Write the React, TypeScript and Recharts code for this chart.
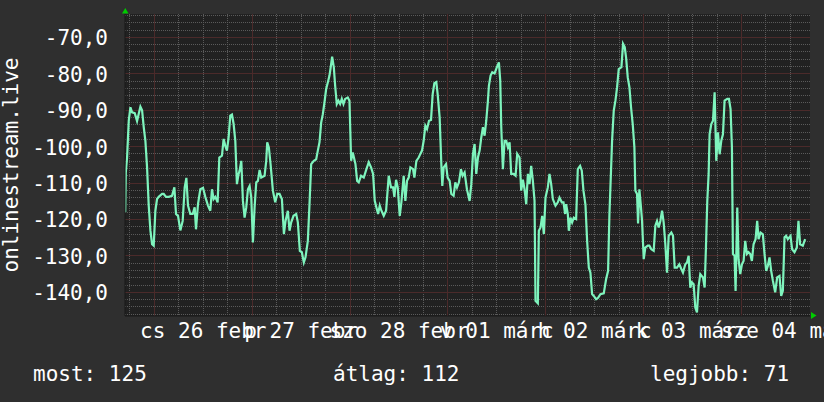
import { LineChart, Line, XAxis, YAxis, CartesianGrid, ReferenceLine } from 'recharts';

// hours relative to 26 Feb 00:00
const feb25Evening: [number, number][] = [
  [-7.15, -118], [-7.0, -107], [-6.69, -103], [-6.28, -92.9], [-5.87, -89.2], [-5.46, -90.6],
  [-4.81, -90.8], [-4.24, -93], [-3.83, -91], [-3.42, -89], [-3.01, -90], [-2.6, -94.7],
  [-2.2, -98.4], [-1.79, -105.7], [-1.38, -116.2], [-0.97, -123], [-0.56, -126.8], [-0.16, -127.2],
];
const feb26: [number, number][] = [
  [0.25, -117.6], [0.66, -114.4], [1.07, -113.8], [1.89, -113], [2.29, -113], [2.87, -113.8],
  [3.52, -113.8], [4.33, -113.5], [4.91, -111.2], [5.31, -118.5], [5.8, -119], [6.38, -123],
  [6.95, -120.4], [7.44, -111.2], [7.85, -108.6], [8.25, -116.2], [8.82, -118.5], [9.4, -118.5],
  [9.89, -116.7], [10.21, -122.7], [10.7, -115.8], [11.27, -111.7], [11.93, -111.3], [12.5, -113.8],
  [13.15, -116.2], [13.72, -117.6], [14.13, -111.7], [14.54, -114.4], [14.95, -113.8], [15.52, -115.3],
  [15.93, -103], [16.58, -102.5], [16.99, -97.9], [17.4, -99.8], [17.8, -101.1], [18.21, -97.5],
  [18.62, -91.5], [19.03, -91.2], [19.44, -93.8], [19.85, -98.4], [20.25, -110.3], [20.66, -107.5],
  [20.91, -106.6], [21.32, -103.9], [21.72, -114.9], [22.13, -119.5], [22.54, -116.7], [22.95, -111.7],
  [23.36, -110.8], [23.77, -114],
];
const feb27: [number, number][] = [
  [24.17, -126.3], [24.58, -116.7], [24.99, -109.8], [25.4, -109.4], [25.81, -106.4], [26.21, -108.5],
  [27.03, -108], [27.44, -103.9], [27.68, -98.8], [28.09, -100.3], [28.5, -104.8], [29.07, -112.1],
  [29.64, -115.3], [30.13, -113], [30.7, -113], [31.28, -114.4], [31.77, -124], [32.17, -120.4],
  [32.74, -117.6], [33.15, -123.1], [33.56, -120.8], [34.13, -119], [34.79, -118.5], [35.19, -120.8],
  [35.68, -128.6], [36.17, -129], [36.66, -131.8], [37.07, -130.4], [37.64, -125.9], [38.05, -115.8],
  [38.46, -104.8], [39.11, -103.9], [39.68, -103.5], [40.09, -101.1], [40.5, -98.8], [40.91, -93.4],
  [41.32, -91.1], [41.72, -87.9], [42.13, -84.2], [42.54, -82.4], [42.95, -80.5], [43.19, -78.7],
  [43.6, -75.3], [44.01, -78.2], [44.34, -83.3], [44.74, -88.3], [45.15, -87.4], [45.56, -88.3],
  [45.97, -86.9], [46.38, -88.3], [46.79, -86.9], [47.44, -86.5], [47.85, -87.4],
];
const feb28: [number, number][] = [
  [48.26, -103.9], [48.66, -101.6], [49.32, -104.8], [49.73, -109.4], [50.13, -109.8], [50.71, -108],
  [51.36, -108.5], [52.01, -106.2], [52.58, -104.3], [53.15, -105.7], [53.64, -107.5], [54.05, -114.9],
  [54.46, -116.7], [54.87, -118.5], [55.28, -116.2], [55.69, -117.6], [56.26, -119], [56.83, -117.6],
  [57.48, -108], [58.05, -111.2], [58.54, -111.2], [58.87, -113.8], [59.28, -109.1], [59.69, -111.2],
  [60.18, -119], [60.58, -115.3], [61.15, -108], [61.56, -114.9], [61.97, -109.4], [62.38, -108.5],
  [62.79, -105.7], [63.44, -106.2], [63.77, -108.5], [64.26, -103.9], [64.83, -103], [65.24, -102],
  [65.64, -101.1], [66.05, -98.4], [66.46, -94.3], [66.87, -95.2], [67.36, -92.9], [67.85, -92.7],
  [68.26, -85.6], [68.67, -82.6], [69.15, -82.3], [69.48, -85.6], [69.97, -92], [70.38, -104.8],
  [70.62, -110.8], [70.95, -105.7], [71.52, -104.8], [71.93, -108.5],
];
const mar01: [number, number][] = [
  [72.42, -109.4], [72.83, -113], [73.4, -113.5], [73.81, -109.8], [74.22, -111.2], [74.7, -109.8],
  [75.19, -106.2], [75.6, -108], [76.09, -107.1], [76.66, -111.7], [77.32, -114.9], [77.73, -110.3],
  [78.14, -102], [78.54, -99.3], [78.95, -107.5], [79.36, -103], [79.77, -101.1], [80.18, -97.5],
  [80.59, -94.7], [80.99, -97], [81.4, -92.9], [81.81, -87.4], [82.05, -83.3], [82.46, -80.5],
  [82.87, -79.6], [83.44, -79.9], [84.01, -78.2], [84.5, -76.9], [84.83, -81.9], [85.08, -94.7],
  [85.48, -106.2], [85.89, -98.4], [86.3, -98.4], [86.71, -100.2], [87.12, -98.8], [87.52, -107.5],
  [88.1, -107.5], [88.59, -108], [88.99, -102], [89.56, -103], [89.97, -112.1], [90.38, -109.1],
  [90.79, -111.7], [91.2, -115.8], [91.61, -107.5], [92.01, -110.3], [92.42, -105.3], [92.83, -109.4],
  [93.24, -114.9], [93.48, -142.3], [94.05, -143], [94.3, -123.1], [94.71, -122.2], [95.12, -119],
  [95.52, -124], [95.93, -114],
];
const mar02: [number, number][] = [
  [96.5, -111.2], [96.91, -107.5], [97.32, -110.3], [97.73, -114.4], [98.38, -116.2], [98.95, -115.3],
  [99.36, -114], [99.93, -115.3], [100.34, -115.3], [100.75, -118.5], [100.99, -115.8], [101.4, -118.5],
  [101.65, -123.1], [102.05, -119.5], [102.46, -120.8], [102.87, -119.5], [103.44, -119.9], [103.85, -106.2],
  [104.42, -105.3], [104.83, -106.6], [105.24, -112.1], [105.73, -116], [106.14, -125.9], [106.55, -133.2],
  [106.95, -134.6], [107.36, -140.5], [107.77, -141], [108.34, -141.9], [108.83, -141.5], [109.4, -140.5],
  [110.22, -140.3], [110.79, -136.4], [111.28, -134.1], [111.61, -118.5], [111.85, -111.2], [112.26, -98.4],
  [112.67, -90.1], [113.08, -87.4], [113.49, -83.7], [113.89, -78.7], [114.55, -78.2], [114.95, -71.8],
  [115.36, -72.7], [115.69, -75.5], [116.1, -81], [116.51, -83.7], [116.91, -89.2], [117.32, -93.8],
  [117.73, -100.2], [117.97, -112.1], [118.38, -113], [118.63, -121.1], [118.95, -111.7], [119.28, -115.8],
  [119.61, -120.4],
];
const mar03: [number, number][] = [
  [120.02, -130.9], [120.42, -127.7], [121.0, -127.2], [121.4, -127.2], [121.89, -128.2], [122.46, -128.6],
  [122.87, -121.7], [123.28, -120.4], [123.69, -122.2], [124.1, -120.4], [124.51, -117.6], [124.91, -120.8],
  [125.32, -126.8], [125.73, -134.6], [126.14, -124.5], [126.79, -123.6], [127.2, -124.5], [127.61, -133.2],
  [128.18, -133.2], [128.75, -132.3], [129.24, -133.6], [129.65, -134.6], [130.22, -132.3], [130.63, -131.8],
  [131.04, -130], [131.44, -138.7], [131.85, -137.3], [132.26, -137.8], [132.67, -144.2], [133.08, -145.5],
  [133.49, -138.2], [133.89, -135], [134.55, -135.9], [134.96, -138.7], [135.28, -127.7], [135.61, -114.9],
  [135.94, -107.5], [136.18, -96.6], [136.59, -93.8], [137.0, -92.9], [137.41, -85.1], [137.81, -103.9],
  [138.22, -96.1], [138.63, -102.1], [139.04, -98.4], [139.45, -96.6], [139.85, -87.4], [140.51, -86.9],
  [140.92, -86.9], [141.32, -89.7], [141.65, -100.2], [141.9, -129.5], [142.3, -130], [142.55, -139.6],
  [142.96, -116.7], [143.28, -130.9], [143.69, -135],
];
const mar04: [number, number][] = [
  [144.1, -132.3], [144.51, -131.4], [144.92, -125.9], [145.32, -129.5], [145.73, -129], [146.14, -129.5],
  [146.55, -131.4], [146.96, -126.8], [147.45, -125.4], [147.85, -120.4], [148.18, -125.4], [148.67, -123.6],
  [149.24, -124.1], [149.65, -129.5], [150.06, -134.1], [150.47, -132.7], [150.87, -130.4], [151.28, -134.1],
  [151.69, -136.8], [152.26, -140], [152.75, -135.9], [153.32, -135.5], [153.73, -141], [154.14, -139.6],
  [154.55, -124.9], [154.95, -124.5], [155.36, -125.4], [156.02, -124.5], [156.42, -128.2], [157.0, -129],
  [157.57, -127.7], [157.97, -120.4], [158.38, -126.8], [159.04, -127.2], [159.61, -125.4],
];

const dayNoon = [12, 36, 60, 84, 108, 132, 156];
const dayLabels = ['cs 26 febr', 'p 27 febr', 'szo 28 febr', 'v 01 márc', 'h 02 márc', 'k 03 márc', 'sze 04 márc'];
const yTicks = [-70, -80, -90, -100, -110, -120, -130, -140];
const summary = [
  { label: 'most: 125', x: 33 },
  { label: 'átlag: 112', x: 333 },
  { label: 'legjobb: 71', x: 650 },
];

const FONT = '"DejaVu Sans Mono", monospace';
const TEXT = '#ffffff';
const MAJOR = '#4b2a2a';

const data = [...feb25Evening, ...feb26, ...feb27, ...feb28, ...mar01, ...mar02, ...mar03, ...mar04]
  .map(([h, v]) => ({ h, v }));

const majorY = yTicks;
const minorY: number[] = [];
for (let v = -146; v <= -64; v += 2) if (v % 10 !== 0) minorY.push(v);
const majorX = [0, 24, 48, 72, 96, 120, 144];
const minorX: number[] = [];
for (let h = -6; h <= 156; h += 6) if (h % 24 !== 0) minorX.push(h);

const DayTick = (props: any) => {
  const { x, y, payload } = props;
  const i = dayNoon.indexOf(payload.value);
  return (
    <text x={x} y={y + 14} textAnchor="middle" fill={TEXT} fontFamily={FONT} fontSize={21}>
      {dayLabels[i]}
    </text>
  );
};

const ValueTick = (props: any) => {
  const { y, payload } = props;
  return (
    <text x={108} y={y + 8} textAnchor="end" fill={TEXT} fontFamily={FONT} fontSize={21}>
      {payload.value.toFixed(1).replace('.', ',')}
    </text>
  );
};

export default function App() {
  return (
    <div style={{ position: 'absolute', left: 0, top: 0, width: 824, height: 402, background: '#2f2f2f', overflow: 'hidden' }}>
      <LineChart width={824} height={402} data={data} margin={{ top: 14, right: 14, bottom: 0, left: 0 }}>
        <CartesianGrid fill="#212121" stroke="#5a5a5a" strokeDasharray="1 1" shapeRendering="crispEdges"
          horizontalValues={minorY} verticalValues={minorX} />
        <XAxis type="number" dataKey="h" domain={[-7.2, 160.8]} allowDataOverflow ticks={dayNoon} interval={0}
          height={86} tick={<DayTick />} tickLine={false} axisLine={{ stroke: '#181818' }} />
        <YAxis type="number" domain={[-146.5, -63.6]} allowDataOverflow ticks={yTicks} interval={0}
          width={125} tick={<ValueTick />} tickLine={false} axisLine={{ stroke: '#181818' }} />
        {majorY.map((v) => (
          <ReferenceLine key={`y${v}`} y={v} stroke={MAJOR} strokeWidth={1} shapeRendering="crispEdges" />
        ))}
        {majorX.map((h) => (
          <ReferenceLine key={`x${h}`} x={h} stroke={MAJOR} strokeWidth={1} shapeRendering="crispEdges" />
        ))}
        <Line type="linear" dataKey="v" stroke="#7ef4bd" strokeWidth={2.2} dot={false} isAnimationActive={false} />
      </LineChart>
      <svg width={824} height={402} style={{ position: 'absolute', left: 0, top: 0, pointerEvents: 'none' }}>
        <polygon points="122,13.5 128.5,13.5 125.3,8" fill="#00cc00" />
        <polygon points="811,312 811,319 816.5,315.5" fill="#00cc00" />
        <text x={18} y={165} transform="rotate(-90 18 165)" textAnchor="middle" fill={TEXT} fontFamily={FONT} fontSize={21}>
          onlinestream.live
        </text>
        {summary.map((s) => (
          <text key={s.label} x={s.x} y={381} fill={TEXT} fontFamily={FONT} fontSize={21}>{s.label}</text>
        ))}
      </svg>
    </div>
  );
}
